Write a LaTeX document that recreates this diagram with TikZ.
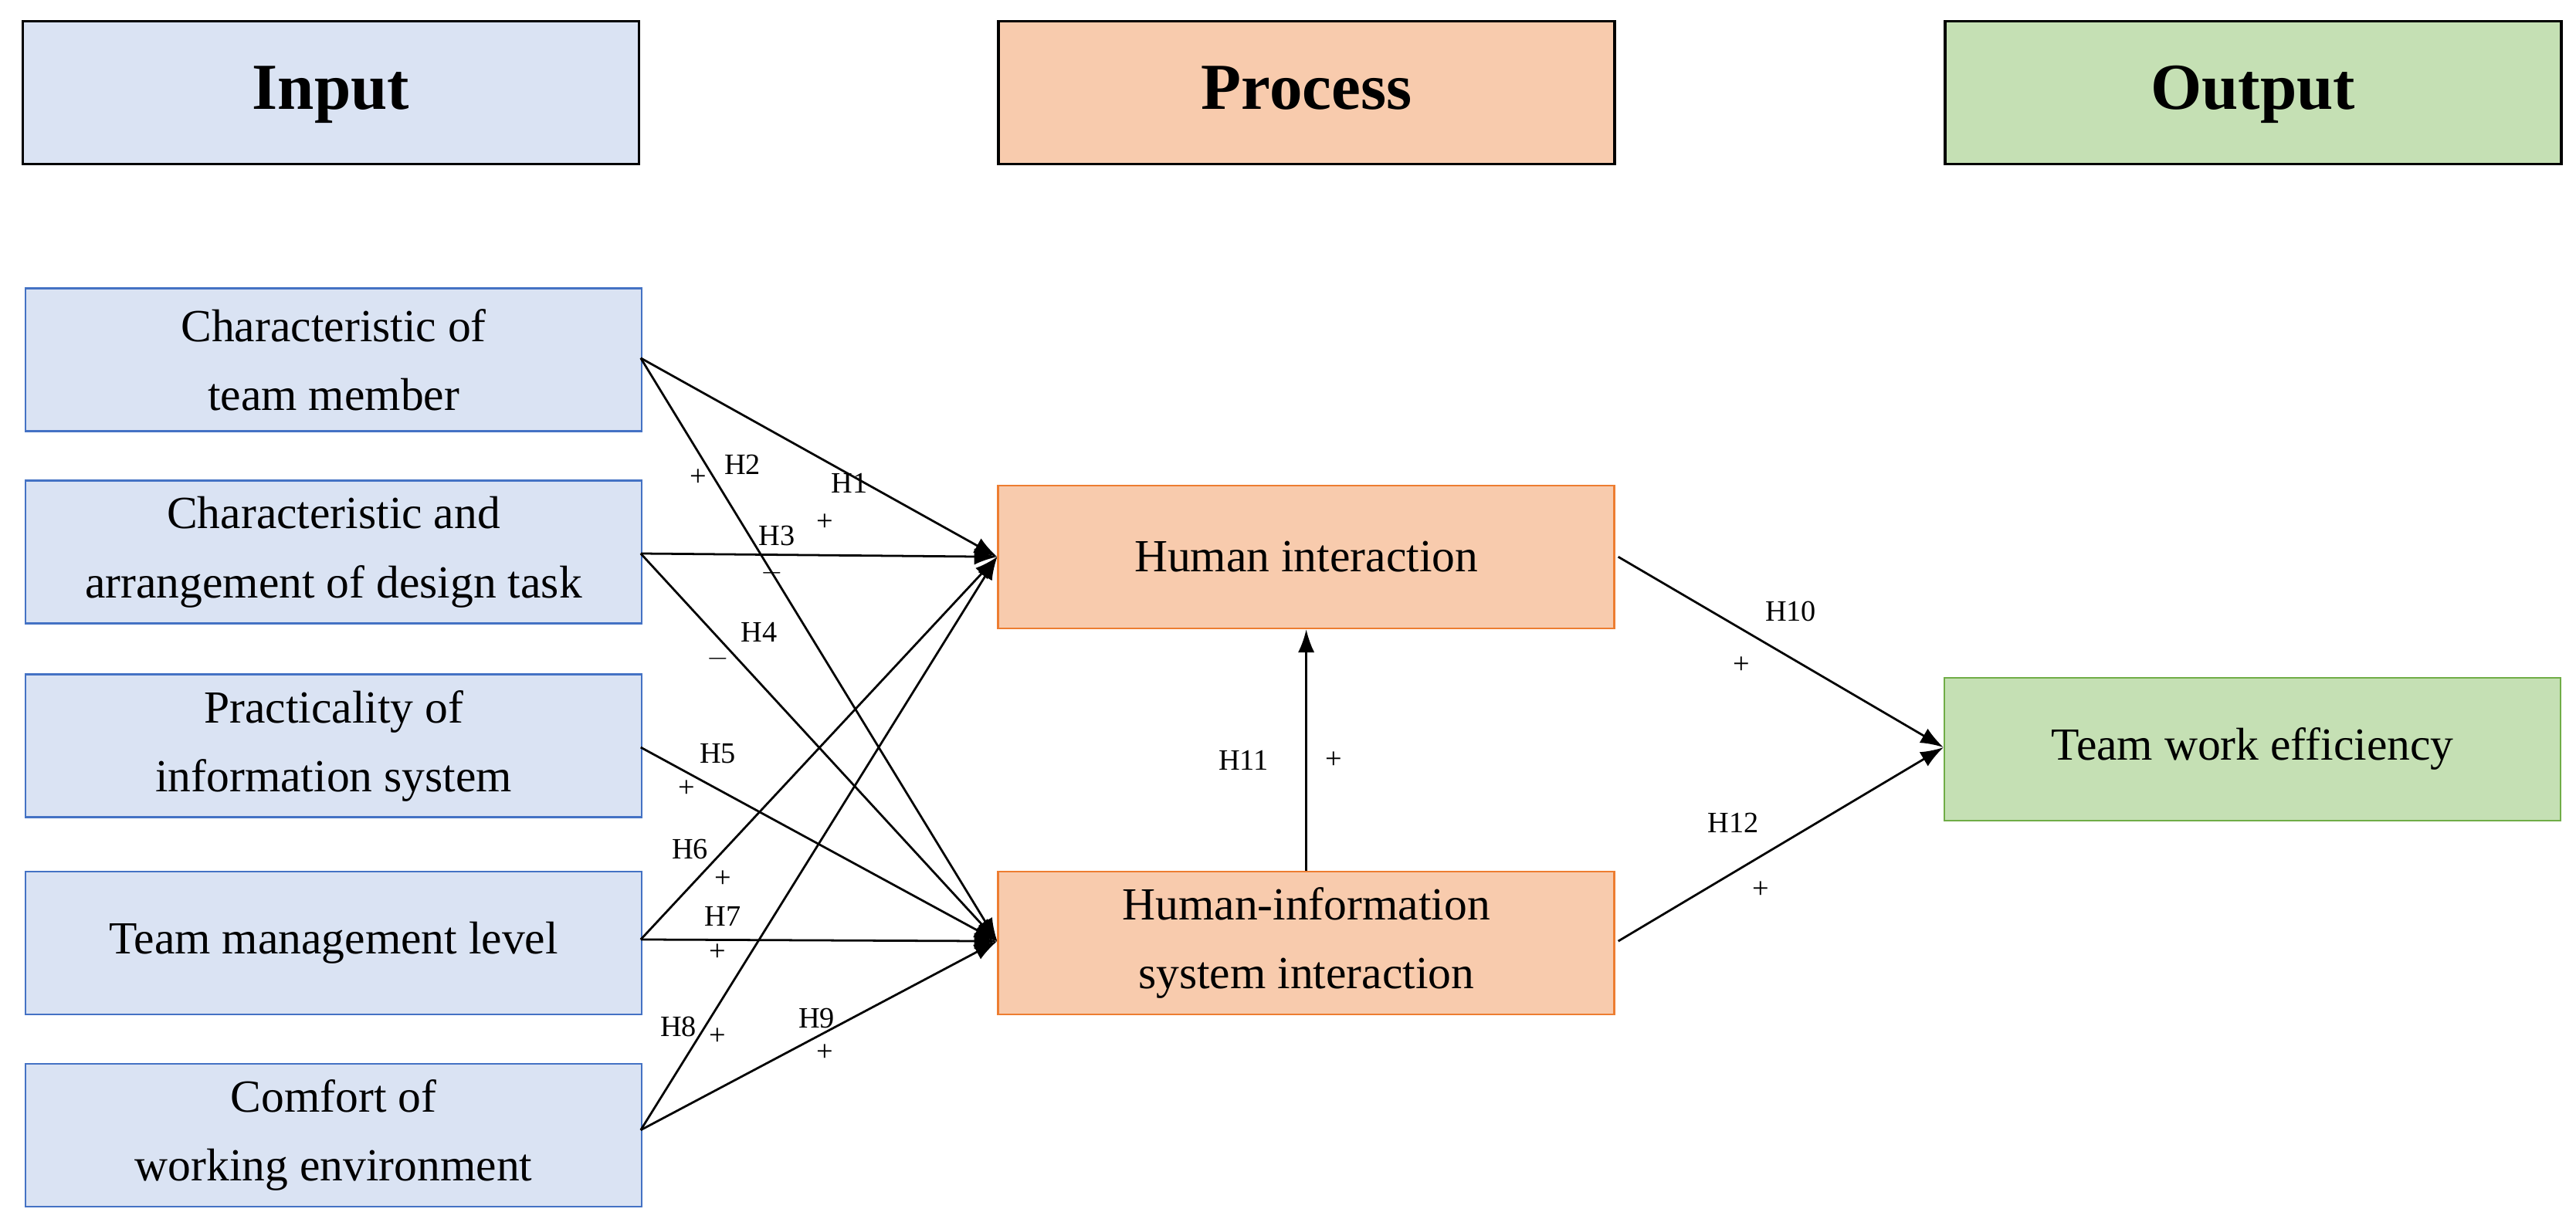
\documentclass[tikz,border=0pt]{standalone}
\usepackage{fontspec}
\setmainfont{Liberation Serif}
\usetikzlibrary{arrows.meta}
\definecolor{bfill}{HTML}{DAE3F3}\definecolor{bline}{HTML}{4472C4}
\definecolor{ofill}{HTML}{F8CBAD}\definecolor{oline}{HTML}{ED7D31}
\definecolor{gfill}{HTML}{C5E0B4}\definecolor{gline}{HTML}{70AD47}
\begin{document}
\begin{tikzpicture}[x=1pt,y=-1pt,
 box/.style={draw,line width=1.2pt,minimum width=375pt,minimum height=87pt,align=center,font=\fontsize{28}{42}\selectfont,anchor=north west,inner sep=0pt},
 hdr/.style={box,draw=black,line width=1.8pt,font=\fontsize{40}{44}\selectfont\bfseries,text height=28pt,text depth=8pt},
 inb/.style={box,fill=bfill,draw=bline},
 pb/.style={box,fill=ofill,draw=oline},
 ar/.style={-{Latex[length=14pt,width=10pt]},line width=1.3pt},
 lb/.style={font=\fontsize{18}{20}\selectfont,inner sep=0pt}]
\useasboundingbox (0,0) rectangle (1568,742);
\node[hdr,fill=bfill] (hi) at (13,12) {Input};
\node[hdr,fill=ofill] (hp) at (607,12) {Process};
\node[hdr,fill=gfill] (ho) at (1183,12) {Output};
\node[inb] (a) at (15,175) {Characteristic of\\team member};
\node[inb] (b) at (15,292) {Characteristic and\\arrangement of design task};
\node[inb] (c) at (15,410) {Practicality of\\information system};
\node[inb] (d) at (15,530) {Team management level};
\node[inb] (e) at (15,647) {Comfort of\\working environment};
\node[pb] (h) at (607,295) {Human interaction};
\node[pb] (s) at (607,530) {Human-information\\system interaction};
\node[box,fill=gfill,draw=gline] (t) at (1183,412) {Team work efficiency};
\coordinate (hl) at (607,339); \coordinate (sl) at (607,573);
\coordinate (tl) at (1183,455);
\foreach \n/\yy in {a/218,b/337,c/455,d/572,e/688}{\coordinate (\n r) at (390,\yy);}
\draw[ar] (ar)--(hl); \draw[ar] (ar)--(sl);
\draw[ar] (br)--(hl); \draw[ar] (br)--(sl);
\draw[ar] (cr)--(sl);
\draw[ar] (dr)--(hl); \draw[ar] (dr)--(sl);
\draw[ar] (er)--(hl); \draw[ar] (er)--(sl);
\draw[ar] (985,339)--(tl); \draw[ar] (985,573)--(tl);
\draw[ar] (s.north)--(h.south);
\foreach \p/\t in {{517,294}/H1,{502,318}/+,{452,283}/H2,{425,291}/+,{473,326}/H3,{470,349}/$-$,{462,385}/H4,{437,401}/$-$,{437,459}/H5,{418,480}/+,{420,517}/H6,{440,535}/+,{440,558}/H7,{437,580}/+,{413,625}/H8,{437,631}/+,{497,620}/H9,{502,641}/+,{1090,372}/H10,{1060,405}/+,{757,463}/H11,{812,463}/+,{1055,501}/H12,{1072,542}/+}
 \node[lb] at (\p) {\t};
\end{tikzpicture}
\end{document}
